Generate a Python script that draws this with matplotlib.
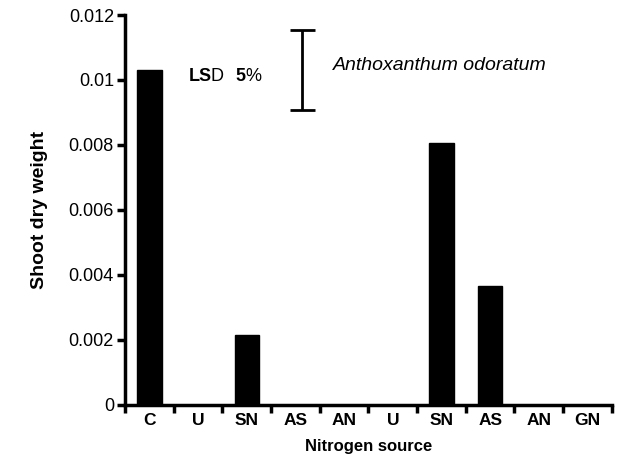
#!/usr/bin/env python3
"""Shoot dry weight of Anthoxanthum odoratum by nitrogen source."""

import matplotlib
matplotlib.use("Agg")
import matplotlib.pyplot as plt

plt.rcParams["font.family"] = ["Liberation Sans", "DejaVu Sans"]

sources = ["C", "U", "SN", "AS", "AN", "U", "SN", "AS", "AN", "GN"]
dry_weight = [0.0103, 0.0, 0.00215, 0.0, 0.0, 0.0, 0.00807, 0.00367, 0.0, 0.0]
y_ticks = [0, 0.002, 0.004, 0.006, 0.008, 0.01, 0.012]
y_tick_labels = ["0", "0.002", "0.004", "0.006", "0.008", "0.01", "0.012"]
lsd_low, lsd_high = 0.00908, 0.01154

fig = plt.figure(figsize=(6.18, 4.63), dpi=100)
ax = fig.add_axes([0.2023, 0.1253, 0.7877, 0.8423])

x = list(range(len(sources)))
ax.bar(x, dry_weight, width=0.5, color="black", edgecolor="black")

ax.set_xlim(-0.5, len(sources) - 0.5)
ax.set_ylim(0, 0.012)

ax.set_yticks(y_ticks)
ax.set_yticklabels(y_tick_labels, fontsize=13)
# category ticks sit on the slot edges, labels in the middle
ax.set_xticks([i - 0.5 for i in range(len(sources) + 1)])
ax.set_xticklabels([])
ax.set_xticks(x, minor=True)
ax.set_xticklabels(sources, minor=True, fontsize=12.5, fontweight="bold")
ax.tick_params(axis="x", which="minor", length=0, pad=6)
ax.tick_params(axis="both", which="major", direction="out", length=6, width=2.5)
ax.tick_params(axis="y", pad=2)

for side in ["top", "right"]:
    ax.spines[side].set_visible(False)
for side in ["left", "bottom"]:
    ax.spines[side].set_linewidth(2.5)

ax.set_ylabel("Shoot dry weight", fontsize=14, fontweight="bold", labelpad=15)
ax.set_xlabel("Nitrogen source", fontsize=12, fontweight="bold", labelpad=8)

# LSD bar
ax.errorbar([3.13], [(lsd_low + lsd_high) / 2], yerr=[(lsd_high - lsd_low) / 2],
            color="black", capsize=9, elinewidth=2, capthick=2, fmt="none")
ax.text(0.8, 0.01012, "LS", fontsize=13, fontweight="bold", va="center")
ax.text(1.26, 0.01012, "D", fontsize=13, va="center")
ax.text(1.77, 0.01012, "5", fontsize=13, fontweight="bold", va="center")
ax.text(1.98, 0.01012, "%", fontsize=13, va="center")
ax.text(3.77, 0.01046, "Anthoxanthum odoratum", fontsize=14, style="italic", va="center")

fig.savefig("out.png", dpi=100)
plt.close(fig)
